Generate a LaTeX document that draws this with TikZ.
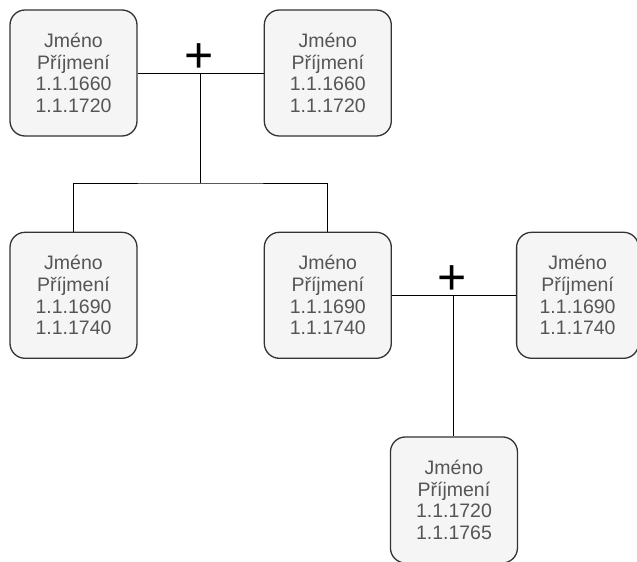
\documentclass[tikz,border=0pt]{standalone}
\usepackage{fontspec}
\setmainfont{Liberation Sans}
\usetikzlibrary{positioning,calc}
\definecolor{ftFill}{HTML}{F5F5F5}
\definecolor{ftLine}{HTML}{333333}
\definecolor{ftText}{HTML}{555555}

\begin{document}
\begin{tikzpicture}[x=1pt, y=-1pt,
  person/.style={draw=ftLine, line width=1.3pt, fill=ftFill, rounded corners=15pt,
    minimum width=127pt, minimum height=126pt, inner sep=0pt, align=center,
    text=ftText, font=\fontsize{19.5}{21.7}\selectfont},
  link/.style={draw=black, line width=1pt},
  wed/.style={inner sep=0pt, xshift=-1.5pt, font=\fontsize{50}{50}\selectfont}]
  \useasboundingbox (0,0) rectangle (637,562);

  % first generation
  \node[person] (a) at (73.5,73) {Jméno\\Příjmení\\1.1.1660\\1.1.1720};
  \node[person, right=126pt of a] (b) {Jméno\\Příjmení\\1.1.1660\\1.1.1720};

  % children and spouse
  \node[person, below=95pt of a] (c) {Jméno\\Příjmení\\1.1.1690\\1.1.1740};
  \node[person, right=126pt of c] (d) {Jméno\\Příjmení\\1.1.1690\\1.1.1740};
  \node[person, right=124pt of d, minimum width=122pt] (e) {Jméno\\Příjmení\\1.1.1690\\1.1.1740};

  \coordinate (m1) at ($(a.east)!0.5!(b.west)$);
  \coordinate[below=110pt of m1] (j1);
  \coordinate (m2) at ($(d.east)!0.5!(e.west)$);

  % grandchild
  \node[person, below=141pt of m2] (f) {Jméno\\Příjmení\\1.1.1720\\1.1.1765};

  \node[wed, above=0pt of m1] (p1) {+};
  \node[wed, above=1pt of m2] (p2) {+};

  \draw[link] (a) -- (b);
  \draw[link] (m1) -- (j1);
  \draw[link] (c) |- (j1) -| (d);
  \draw[link] (d) -- (e);
  \draw[link] (m2) -- (f);
\end{tikzpicture}
\end{document}
